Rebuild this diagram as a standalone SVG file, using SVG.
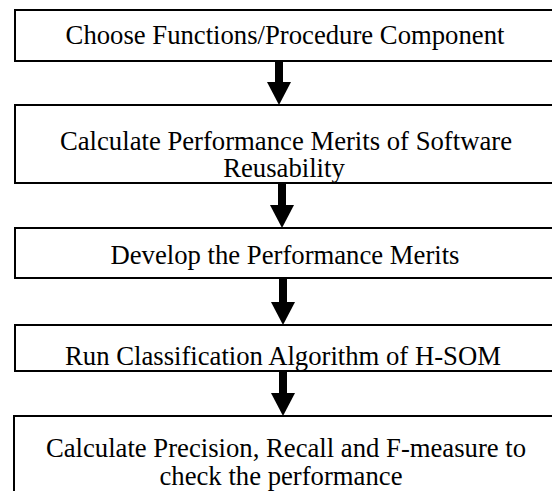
<svg xmlns="http://www.w3.org/2000/svg" width="552" height="491" viewBox="0 0 552 491">
<style>
.box{fill:#fff;stroke:#000;stroke-width:2}
.t{font-family:"Liberation Serif","Times New Roman",serif;font-size:26.7px;fill:#000;text-anchor:middle}
.arr{stroke:#000;stroke-width:8;fill:none}
</style>
<defs>
<marker id="ah" markerUnits="userSpaceOnUse" markerWidth="23" markerHeight="24" refX="0" refY="12" orient="auto" viewBox="0 0 23 24">
<path d="M0,0 L23,12 L0,24 z" fill="#000"/>
</marker>
</defs>
<rect width="552" height="491" fill="#fff"/>
<g id="n1"><rect class="box" x="15" y="10" width="545" height="51"/><text class="t" x="285" y="44">Choose Functions/Procedure Component</text></g>
<g id="n2"><rect class="box" x="15" y="105" width="545" height="78"/><text class="t" x="286" y="150">Calculate Performance Merits of Software</text><text class="t" x="284" y="177">Reusability</text></g>
<g id="n3"><rect class="box" x="15" y="228" width="545" height="50"/><text class="t" x="285" y="264">Develop the Performance Merits</text></g>
<g id="n4"><rect class="box" x="15" y="325" width="545" height="46"/><text class="t" x="283" y="365">Run Classification Algorithm of H-SOM</text></g>
<g id="n5"><rect class="box" x="14" y="416" width="546" height="90"/><text class="t" x="286" y="457">Calculate Precision, Recall and F-measure to</text><text class="t" x="281" y="485">check the performance</text></g>
<g id="connectors">
<line class="arr" x1="279" y1="61" x2="279" y2="82" marker-end="url(#ah)"/>
<line class="arr" x1="282" y1="183" x2="282" y2="205" marker-end="url(#ah)"/>
<line class="arr" x1="283" y1="278" x2="283" y2="302" marker-end="url(#ah)"/>
<line class="arr" x1="283" y1="371" x2="283" y2="393" marker-end="url(#ah)"/>
</g>
</svg>
